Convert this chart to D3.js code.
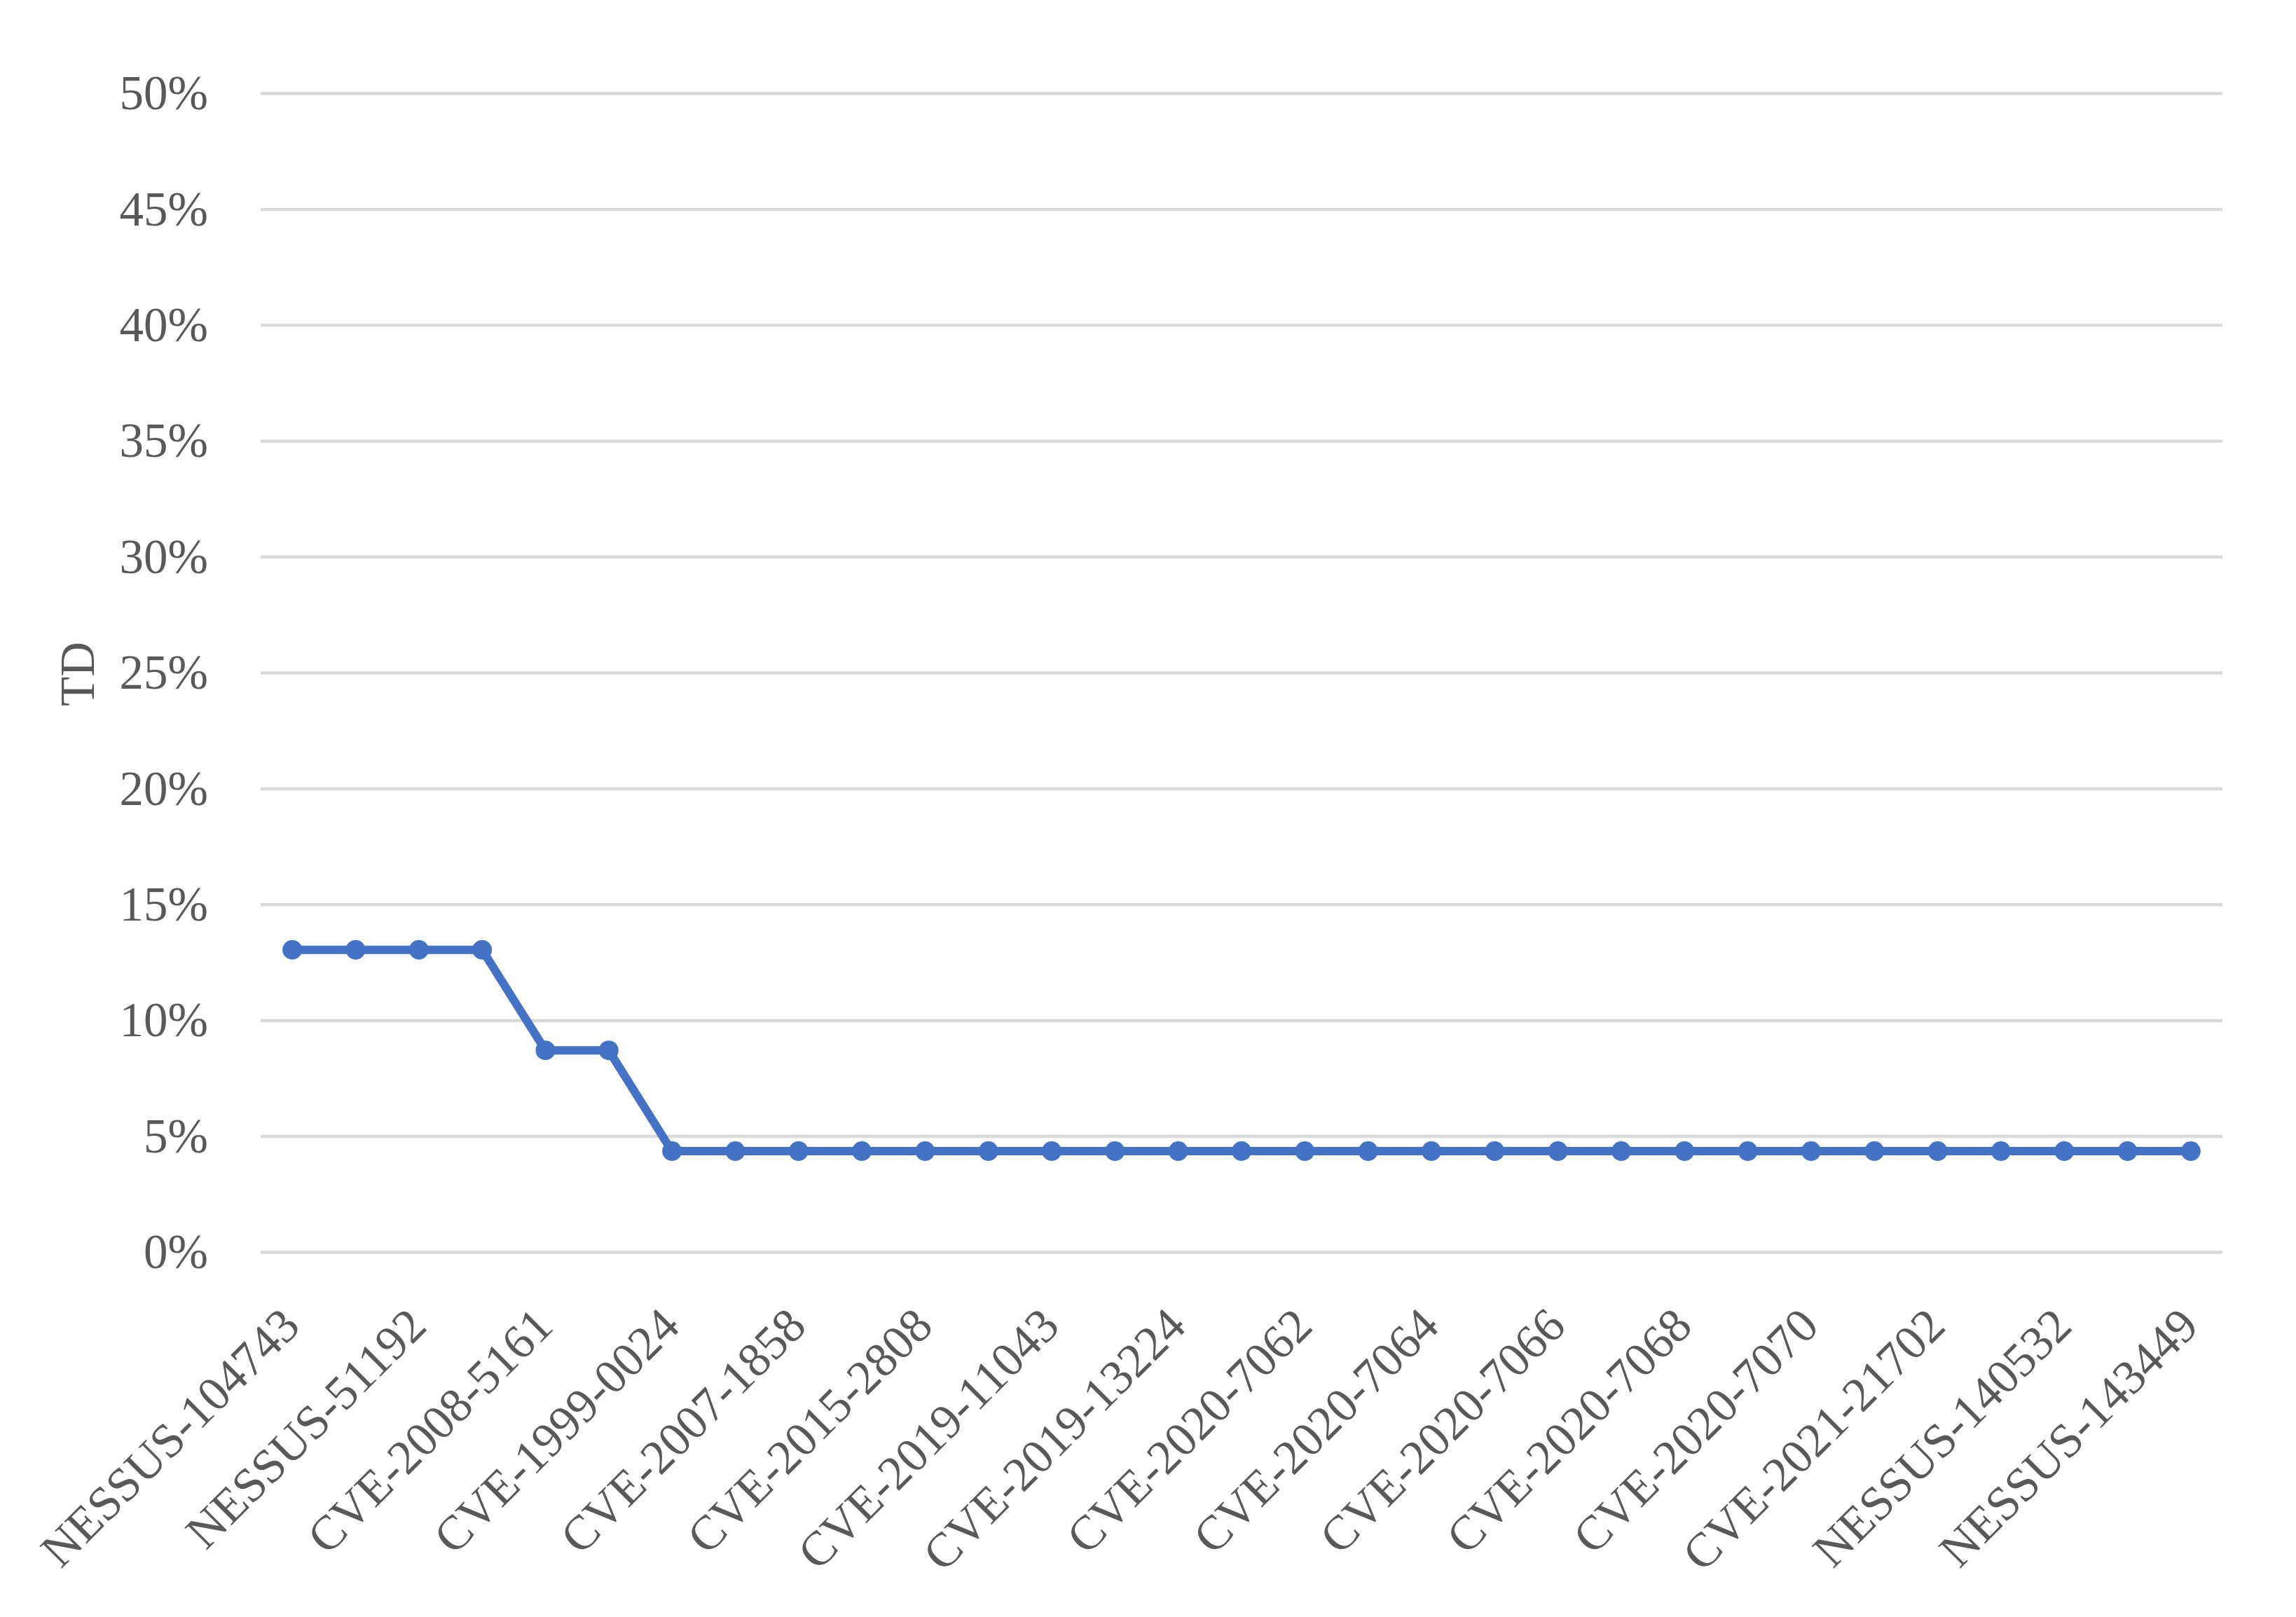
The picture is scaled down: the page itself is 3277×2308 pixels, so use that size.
<!DOCTYPE html>
<html>
<head>
<meta charset="utf-8">
<script src="https://cdn.jsdelivr.net/npm/d3@7"></script>
<style>
  html, body { margin: 0; padding: 0; background: #ffffff; }
  svg { display: block; }
  text { font-family: "Palatino Linotype", Palatino, "Book Antiqua", "Liberation Serif", serif; }
</style>
</head>
<body>
<svg id="chart" width="3277" height="2308"></svg>
<script>
// ---- data ----
const tickLabels = [
  "NESSUS-104743", "NESSUS-51192", "CVE-2008-5161", "CVE-1999-0024",
  "CVE-2007-1858", "CVE-2015-2808", "CVE-2019-11043", "CVE-2019-13224",
  "CVE-2020-7062", "CVE-2020-7064", "CVE-2020-7066", "CVE-2020-7068",
  "CVE-2020-7070", "CVE-2021-21702", "NESSUS-140532", "NESSUS-143449"
];
const tdValues = [
  0.1304, 0.1304, 0.1304, 0.1304, 0.0870, 0.0870,
  0.0435, 0.0435, 0.0435, 0.0435, 0.0435, 0.0435, 0.0435, 0.0435,
  0.0435, 0.0435, 0.0435, 0.0435, 0.0435, 0.0435, 0.0435, 0.0435,
  0.0435, 0.0435, 0.0435, 0.0435, 0.0435, 0.0435, 0.0435, 0.0435,
  0.0435
];
const yTicks = [0, 0.05, 0.10, 0.15, 0.20, 0.25, 0.30, 0.35, 0.40, 0.45, 0.50];
const yTitle = "TD";

// ---- layout ----
const plot = { left: 372, right: 3172, top: 133, bottom: 1787 };
const textColor = "#595959";
const fontSize = 69;

const svg = d3.select("#chart");

const x = d3.scaleBand()
  .domain(d3.range(tdValues.length))
  .range([plot.left, plot.right]);
const cx = i => x(i) + x.bandwidth() / 2;

const y = d3.scaleLinear().domain([0, 0.5]).range([plot.bottom, plot.top]);

// gridlines
const grid = d3.axisLeft(y)
  .tickValues(yTicks)
  .tickSize(-(plot.right - plot.left))
  .tickFormat("");
svg.append("g")
  .attr("transform", `translate(${plot.left},0)`)
  .call(grid)
  .call(g => g.select(".domain").remove())
  .call(g => g.selectAll(".tick line")
    .attr("stroke", "#D9D9D9")
    .attr("stroke-width", 4.5));

// y axis labels
const yAxis = d3.axisLeft(y)
  .tickValues(yTicks)
  .tickSize(0)
  .tickPadding(0)
  .tickFormat(d3.format(".0%"));
svg.append("g")
  .attr("transform", `translate(297,0)`)
  .call(yAxis)
  .call(g => g.select(".domain").remove())
  .call(g => g.selectAll(".tick text")
    .attr("x", 0)
    .attr("dy", "0.33em")
    .attr("fill", textColor)
    .style("font-size", fontSize + "px"));

// x axis labels (every other category)
const xAxis = d3.axisBottom(x)
  .tickValues(d3.range(0, tdValues.length, 2))
  .tickSize(0)
  .tickFormat(i => tickLabels[i / 2]);
svg.append("g")
  .attr("transform", `translate(0,${plot.bottom})`)
  .call(xAxis)
  .call(g => g.select(".domain").remove())
  .call(g => g.selectAll(".tick text")
    .attr("y", 0)
    .attr("dy", 0)
    .attr("text-anchor", "end")
    .attr("transform", "translate(14,109) rotate(-45)")
    .attr("fill", textColor)
    .style("font-size", fontSize + "px"));

// y title
svg.append("text")
  .attr("transform", "translate(134,962) rotate(-90)")
  .attr("text-anchor", "middle")
  .attr("fill", textColor)
  .style("font-size", fontSize + "px")
  .text(yTitle);

// line
const line = d3.line()
  .x((d, i) => cx(i))
  .y(d => y(d));
svg.append("path")
  .datum(tdValues)
  .attr("d", line)
  .attr("fill", "none")
  .attr("stroke", "#4472C4")
  .attr("stroke-width", 12)
  .attr("stroke-linejoin", "round");

// markers
svg.append("g")
  .selectAll("circle")
  .data(tdValues)
  .join("circle")
  .attr("cx", (d, i) => cx(i))
  .attr("cy", d => y(d))
  .attr("r", 14)
  .attr("fill", "#4472C4");
</script>
</body>
</html>
